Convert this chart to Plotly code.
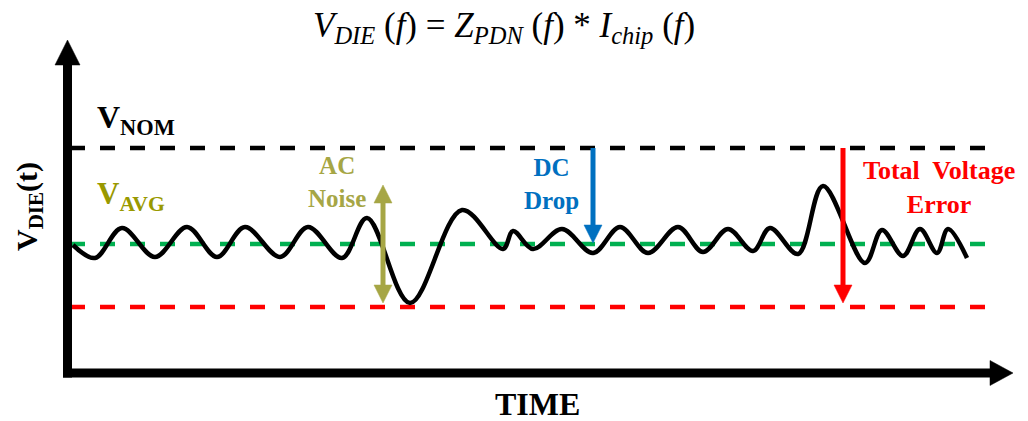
import plotly.graph_objects as go

# ---------------- data (time in px-like units, voltage in arbitrary units, up = higher) -------------
wave_t = [73, 95, 122, 155, 187, 217, 245, 280, 308, 342, 367, 410, 462, 503, 513, 533, 562,
          593, 620, 648, 678, 703, 728, 753, 770, 798, 823, 865, 882, 903, 920, 937, 948, 967]
wave_v = [176, 163, 193, 164, 194, 164, 194, 164, 194, 163, 203, 118, 211, 172, 190, 172, 192,
          168, 194, 168, 194, 169, 192, 170, 193, 167, 235, 158, 191, 165, 192, 168, 192, 163]

level_names = ["V_NOM", "V_AVG", "V_MIN"]
level_values = [273, 177, 114]
level_colors = ["#000000", "#00B050", "#FF0000"]

# page body has an 8px margin: draw a 1020x413 figure showing x 8..1028 and the matching y span
OFF = 8
W, H = 1028, 421
AX0_X, AX0_Y = 67.5, 48          # axis origin
AX_END_X, AX_END_Y = 1013, 381   # arrow tips

fig = go.Figure()

# dashed reference levels
for name, val, col in zip(level_names, level_values, level_colors):
    fig.add_trace(go.Scatter(x=[70, 991], y=[val, val], mode="lines", name=name,
                             line=dict(color=col, width=4.5, dash="15px,15px"),
                             hoverinfo="skip", showlegend=False))

# waveform
fig.add_trace(go.Scatter(x=wave_t, y=wave_v, mode="lines", name="V_DIE(t)",
                         line=dict(color="black", width=4.5, shape="spline", smoothing=1.0),
                         showlegend=False))

shapes = []


def tri(tip_x, tip_y, dirx, diry, length, half, color):
    bx, by = tip_x - dirx * length, tip_y - diry * length
    px, py = -diry, dirx
    p1 = (bx + px * half, by + py * half)
    p2 = (bx - px * half, by - py * half)
    return dict(type="path", xref="x", yref="y",
                path=f"M {tip_x},{tip_y} L {p1[0]},{p1[1]} L {p2[0]},{p2[1]} Z",
                fillcolor=color, line=dict(color=color, width=0.5))


def line(x0, y0, x1, y1, color, width):
    return dict(type="line", xref="x", yref="y", x0=x0, y0=y0, x1=x1, y1=y1,
                line=dict(color=color, width=width))


# axes (thick arrows)
shapes.append(line(AX0_X, AX0_Y - 4.5, AX0_X, AX_END_Y - 20, "black", 9))
shapes.append(tri(AX0_X, AX_END_Y, 0, 1, 25, 12.5, "black"))
shapes.append(line(AX0_X - 4.5, AX0_Y, AX_END_X - 20, AX0_Y, "black", 9))
shapes.append(tri(AX_END_X, AX0_Y, 1, 0, 23, 12.5, "black"))

# annotation arrows
olive = "#A6A645"
blue = "#0070C0"
red = "#FF0000"
ac_x, ac_top, ac_bot = 383, 236, 118
shapes.append(line(ac_x, ac_top - 16, ac_x, ac_bot + 16, olive, 5))
shapes.append(tri(ac_x, ac_top, 0, 1, 18, 9, olive))
shapes.append(tri(ac_x, ac_bot, 0, -1, 18, 9, olive))

dc_x = 593
dc_tip = level_values[1] + 1
shapes.append(line(dc_x, level_values[0], dc_x, dc_tip + 16, blue, 5))
shapes.append(tri(dc_x, dc_tip, 0, -1, 18, 9, blue))

tv_x = 843
tv_tip = level_values[2] + 4
shapes.append(line(tv_x, level_values[0], tv_x, tv_tip + 16, red, 5))
shapes.append(tri(tv_x, tv_tip, 0, -1, 18, 9, red))

SERIF = "Liberation Serif, Times New Roman, serif"
ann = []


def txt(x, y, text, size, color="black", xanchor="center", angle=0):
    ann.append(dict(x=x, y=y, xref="x", yref="y", text=text, showarrow=False,
                    xanchor=xanchor, yanchor="middle", textangle=angle,
                    font=dict(family=SERIF, size=size, color=color)))


txt(504, 394, "<i>V<sub>DIE</sub></i> (<i>f</i>) = <i>Z<sub>PDN</sub></i> (<i>f</i>) * <i>I<sub>chip</sub></i> (<i>f</i>)", 35)
txt(95, 302, "<b>V<sub>NOM</sub></b>", 32, xanchor="left")
txt(95, 225, "<b>V<sub>AVG</sub></b>", 31, color="#999900", xanchor="left")
txt(337, 239, "<b>AC<br>Noise</b>", 25, color=olive)
txt(551, 237, "<b>DC<br>Drop</b>", 25, color=blue)
txt(939, 234, "<b>Total\u00a0 Voltage<br>Error</b>", 26, color=red)
txt(29, 214, "<b>V<sub>DIE</sub>(t)</b>", 30, angle=-90)
txt(537, 17, "<b>TIME</b>", 32)

fig.update_layout(
    width=W - OFF, height=H - OFF, autosize=False,
    margin=dict(l=0, r=0, t=0, b=0, pad=0),
    paper_bgcolor="white", plot_bgcolor="white",
    xaxis=dict(range=[OFF, W], visible=False, fixedrange=True),
    yaxis=dict(range=[0, H - OFF], visible=False, fixedrange=True),
    shapes=shapes, annotations=ann, showlegend=False,
)

fig.write_html("out.html")
